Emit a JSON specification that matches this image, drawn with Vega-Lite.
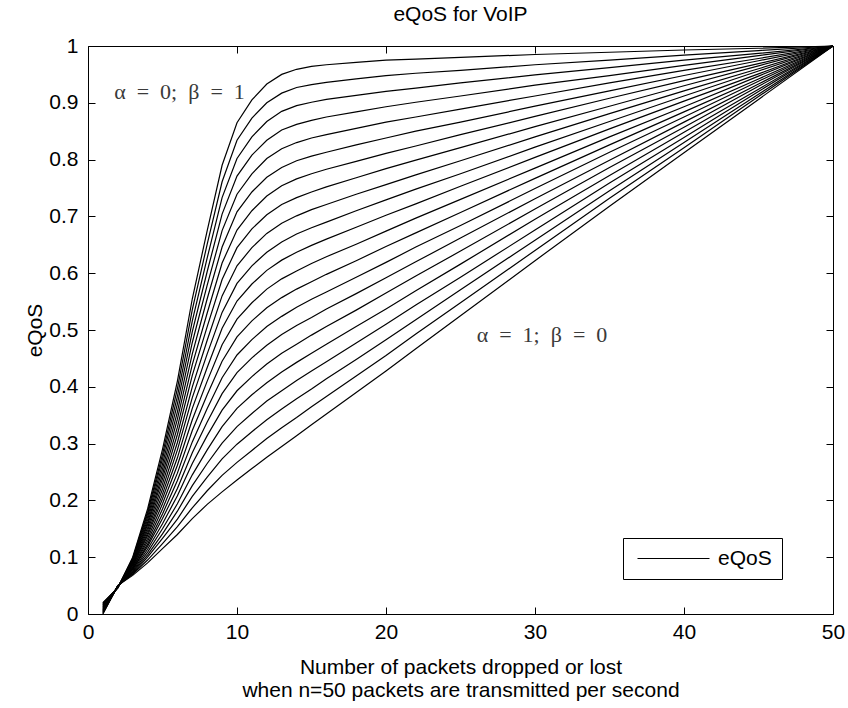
{
  "$schema": "https://vega.github.io/schema/vega-lite/v6.json",
  "width": 745,
  "height": 568,
  "autosize": "none",
  "padding": {"left": 88, "top": 46, "right": 15, "bottom": 94},
  "background": "white",
  "title": {"text": "eQoS for VoIP", "font": "Liberation Sans", "fontSize": 21, "fontWeight": "normal", "color": "black", "offset": 10, "anchor": "middle"},
  "config": {
    "view": {"stroke": "black", "strokeWidth": 1},
    "axis": {"domain": false, "grid": false, "tickColor": "black", "tickSize": -7, "tickWidth": 1, "labelFont": "Liberation Sans", "labelFontSize": 21, "labelColor": "black", "titleFont": "Liberation Sans", "titleFontSize": 21, "titleFontWeight": "normal", "titleColor": "black"}
  },
  "datasets": {
    "curves": [
      {"alpha":0,"x":1,"y":0.02},{"alpha":0.05,"x":1,"y":0.019},{"alpha":0.1,"x":1,"y":0.018},{"alpha":0.15,"x":1,"y":0.017},{"alpha":0.2,"x":1,"y":0.016},{"alpha":0.25,"x":1,"y":0.015},{"alpha":0.3,"x":1,"y":0.014},{"alpha":0.35,"x":1,"y":0.013},{"alpha":0.4,"x":1,"y":0.012},{"alpha":0.45,"x":1,"y":0.011},{"alpha":0.5,"x":1,"y":0.01},{"alpha":0.55,"x":1,"y":0.009},{"alpha":0.6,"x":1,"y":0.008},{"alpha":0.65,"x":1,"y":0.007},{"alpha":0.7,"x":1,"y":0.006},{"alpha":0.75,"x":1,"y":0.005},{"alpha":0.8,"x":1,"y":0.004},{"alpha":0.85,"x":1,"y":0.003},{"alpha":0.9,"x":1,"y":0.002},{"alpha":0.95,"x":1,"y":0.001},{"alpha":1,"x":1,"y":0},
      {"alpha":0,"x":2,"y":0.046},{"alpha":0.05,"x":2,"y":0.046},{"alpha":0.1,"x":2,"y":0.046},{"alpha":0.15,"x":2,"y":0.047},{"alpha":0.2,"x":2,"y":0.047},{"alpha":0.25,"x":2,"y":0.047},{"alpha":0.3,"x":2,"y":0.047},{"alpha":0.35,"x":2,"y":0.047},{"alpha":0.4,"x":2,"y":0.048},{"alpha":0.45,"x":2,"y":0.048},{"alpha":0.5,"x":2,"y":0.048},{"alpha":0.55,"x":2,"y":0.048},{"alpha":0.6,"x":2,"y":0.048},{"alpha":0.65,"x":2,"y":0.049},{"alpha":0.7,"x":2,"y":0.049},{"alpha":0.75,"x":2,"y":0.049},{"alpha":0.8,"x":2,"y":0.049},{"alpha":0.85,"x":2,"y":0.049},{"alpha":0.9,"x":2,"y":0.05},{"alpha":0.95,"x":2,"y":0.05},{"alpha":1,"x":2,"y":0.05},
      {"alpha":0,"x":3,"y":0.1},{"alpha":0.05,"x":3,"y":0.098},{"alpha":0.1,"x":3,"y":0.097},{"alpha":0.15,"x":3,"y":0.095},{"alpha":0.2,"x":3,"y":0.094},{"alpha":0.25,"x":3,"y":0.092},{"alpha":0.3,"x":3,"y":0.09},{"alpha":0.35,"x":3,"y":0.089},{"alpha":0.4,"x":3,"y":0.087},{"alpha":0.45,"x":3,"y":0.086},{"alpha":0.5,"x":3,"y":0.084},{"alpha":0.55,"x":3,"y":0.082},{"alpha":0.6,"x":3,"y":0.081},{"alpha":0.65,"x":3,"y":0.079},{"alpha":0.7,"x":3,"y":0.078},{"alpha":0.75,"x":3,"y":0.076},{"alpha":0.8,"x":3,"y":0.074},{"alpha":0.85,"x":3,"y":0.073},{"alpha":0.9,"x":3,"y":0.071},{"alpha":0.95,"x":3,"y":0.07},{"alpha":1,"x":3,"y":0.068},
      {"alpha":0,"x":4,"y":0.185},{"alpha":0.05,"x":4,"y":0.18},{"alpha":0.1,"x":4,"y":0.176},{"alpha":0.15,"x":4,"y":0.171},{"alpha":0.2,"x":4,"y":0.166},{"alpha":0.25,"x":4,"y":0.161},{"alpha":0.3,"x":4,"y":0.157},{"alpha":0.35,"x":4,"y":0.152},{"alpha":0.4,"x":4,"y":0.147},{"alpha":0.45,"x":4,"y":0.142},{"alpha":0.5,"x":4,"y":0.138},{"alpha":0.55,"x":4,"y":0.133},{"alpha":0.6,"x":4,"y":0.128},{"alpha":0.65,"x":4,"y":0.123},{"alpha":0.7,"x":4,"y":0.119},{"alpha":0.75,"x":4,"y":0.114},{"alpha":0.8,"x":4,"y":0.109},{"alpha":0.85,"x":4,"y":0.104},{"alpha":0.9,"x":4,"y":0.1},{"alpha":0.95,"x":4,"y":0.095},{"alpha":1,"x":4,"y":0.09},
      {"alpha":0,"x":5,"y":0.29},{"alpha":0.05,"x":5,"y":0.281},{"alpha":0.1,"x":5,"y":0.273},{"alpha":0.15,"x":5,"y":0.264},{"alpha":0.2,"x":5,"y":0.255},{"alpha":0.25,"x":5,"y":0.246},{"alpha":0.3,"x":5,"y":0.238},{"alpha":0.35,"x":5,"y":0.229},{"alpha":0.4,"x":5,"y":0.22},{"alpha":0.45,"x":5,"y":0.211},{"alpha":0.5,"x":5,"y":0.203},{"alpha":0.55,"x":5,"y":0.194},{"alpha":0.6,"x":5,"y":0.185},{"alpha":0.65,"x":5,"y":0.176},{"alpha":0.7,"x":5,"y":0.168},{"alpha":0.75,"x":5,"y":0.159},{"alpha":0.8,"x":5,"y":0.15},{"alpha":0.85,"x":5,"y":0.141},{"alpha":0.9,"x":5,"y":0.133},{"alpha":0.95,"x":5,"y":0.124},{"alpha":1,"x":5,"y":0.115},
      {"alpha":0,"x":6,"y":0.41},{"alpha":0.05,"x":6,"y":0.397},{"alpha":0.1,"x":6,"y":0.383},{"alpha":0.15,"x":6,"y":0.37},{"alpha":0.2,"x":6,"y":0.356},{"alpha":0.25,"x":6,"y":0.343},{"alpha":0.3,"x":6,"y":0.329},{"alpha":0.35,"x":6,"y":0.316},{"alpha":0.4,"x":6,"y":0.302},{"alpha":0.45,"x":6,"y":0.289},{"alpha":0.5,"x":6,"y":0.275},{"alpha":0.55,"x":6,"y":0.262},{"alpha":0.6,"x":6,"y":0.248},{"alpha":0.65,"x":6,"y":0.235},{"alpha":0.7,"x":6,"y":0.221},{"alpha":0.75,"x":6,"y":0.208},{"alpha":0.8,"x":6,"y":0.194},{"alpha":0.85,"x":6,"y":0.181},{"alpha":0.9,"x":6,"y":0.167},{"alpha":0.95,"x":6,"y":0.154},{"alpha":1,"x":6,"y":0.14},
      {"alpha":0,"x":7,"y":0.555},{"alpha":0.05,"x":7,"y":0.536},{"alpha":0.1,"x":7,"y":0.516},{"alpha":0.15,"x":7,"y":0.497},{"alpha":0.2,"x":7,"y":0.478},{"alpha":0.25,"x":7,"y":0.458},{"alpha":0.3,"x":7,"y":0.439},{"alpha":0.35,"x":7,"y":0.42},{"alpha":0.4,"x":7,"y":0.4},{"alpha":0.45,"x":7,"y":0.381},{"alpha":0.5,"x":7,"y":0.362},{"alpha":0.55,"x":7,"y":0.342},{"alpha":0.6,"x":7,"y":0.323},{"alpha":0.65,"x":7,"y":0.303},{"alpha":0.7,"x":7,"y":0.284},{"alpha":0.75,"x":7,"y":0.265},{"alpha":0.8,"x":7,"y":0.245},{"alpha":0.85,"x":7,"y":0.226},{"alpha":0.9,"x":7,"y":0.207},{"alpha":0.95,"x":7,"y":0.187},{"alpha":1,"x":7,"y":0.168},
      {"alpha":0,"x":8,"y":0.675},{"alpha":0.05,"x":8,"y":0.651},{"alpha":0.1,"x":8,"y":0.627},{"alpha":0.15,"x":8,"y":0.603},{"alpha":0.2,"x":8,"y":0.579},{"alpha":0.25,"x":8,"y":0.555},{"alpha":0.3,"x":8,"y":0.53},{"alpha":0.35,"x":8,"y":0.506},{"alpha":0.4,"x":8,"y":0.482},{"alpha":0.45,"x":8,"y":0.458},{"alpha":0.5,"x":8,"y":0.434},{"alpha":0.55,"x":8,"y":0.41},{"alpha":0.6,"x":8,"y":0.386},{"alpha":0.65,"x":8,"y":0.362},{"alpha":0.7,"x":8,"y":0.338},{"alpha":0.75,"x":8,"y":0.314},{"alpha":0.8,"x":8,"y":0.289},{"alpha":0.85,"x":8,"y":0.265},{"alpha":0.9,"x":8,"y":0.241},{"alpha":0.95,"x":8,"y":0.217},{"alpha":1,"x":8,"y":0.193},
      {"alpha":0,"x":9,"y":0.79},{"alpha":0.05,"x":9,"y":0.761},{"alpha":0.1,"x":9,"y":0.733},{"alpha":0.15,"x":9,"y":0.704},{"alpha":0.2,"x":9,"y":0.675},{"alpha":0.25,"x":9,"y":0.646},{"alpha":0.3,"x":9,"y":0.618},{"alpha":0.35,"x":9,"y":0.589},{"alpha":0.4,"x":9,"y":0.56},{"alpha":0.45,"x":9,"y":0.531},{"alpha":0.5,"x":9,"y":0.503},{"alpha":0.55,"x":9,"y":0.474},{"alpha":0.6,"x":9,"y":0.445},{"alpha":0.65,"x":9,"y":0.416},{"alpha":0.7,"x":9,"y":0.388},{"alpha":0.75,"x":9,"y":0.359},{"alpha":0.8,"x":9,"y":0.33},{"alpha":0.85,"x":9,"y":0.301},{"alpha":0.9,"x":9,"y":0.273},{"alpha":0.95,"x":9,"y":0.244},{"alpha":1,"x":9,"y":0.215},
      {"alpha":0,"x":10,"y":0.865},{"alpha":0.05,"x":10,"y":0.834},{"alpha":0.1,"x":10,"y":0.802},{"alpha":0.15,"x":10,"y":0.771},{"alpha":0.2,"x":10,"y":0.739},{"alpha":0.25,"x":10,"y":0.708},{"alpha":0.3,"x":10,"y":0.676},{"alpha":0.35,"x":10,"y":0.645},{"alpha":0.4,"x":10,"y":0.613},{"alpha":0.45,"x":10,"y":0.582},{"alpha":0.5,"x":10,"y":0.551},{"alpha":0.55,"x":10,"y":0.519},{"alpha":0.6,"x":10,"y":0.488},{"alpha":0.65,"x":10,"y":0.456},{"alpha":0.7,"x":10,"y":0.425},{"alpha":0.75,"x":10,"y":0.393},{"alpha":0.8,"x":10,"y":0.362},{"alpha":0.85,"x":10,"y":0.33},{"alpha":0.9,"x":10,"y":0.299},{"alpha":0.95,"x":10,"y":0.267},{"alpha":1,"x":10,"y":0.236},
      {"alpha":0,"x":11,"y":0.905},{"alpha":0.05,"x":11,"y":0.873},{"alpha":0.1,"x":11,"y":0.84},{"alpha":0.15,"x":11,"y":0.808},{"alpha":0.2,"x":11,"y":0.775},{"alpha":0.25,"x":11,"y":0.743},{"alpha":0.3,"x":11,"y":0.71},{"alpha":0.35,"x":11,"y":0.678},{"alpha":0.4,"x":11,"y":0.645},{"alpha":0.45,"x":11,"y":0.613},{"alpha":0.5,"x":11,"y":0.581},{"alpha":0.55,"x":11,"y":0.548},{"alpha":0.6,"x":11,"y":0.516},{"alpha":0.65,"x":11,"y":0.483},{"alpha":0.7,"x":11,"y":0.451},{"alpha":0.75,"x":11,"y":0.418},{"alpha":0.8,"x":11,"y":0.386},{"alpha":0.85,"x":11,"y":0.353},{"alpha":0.9,"x":11,"y":0.321},{"alpha":0.95,"x":11,"y":0.288},{"alpha":1,"x":11,"y":0.256},
      {"alpha":0,"x":12,"y":0.933},{"alpha":0.05,"x":12,"y":0.9},{"alpha":0.1,"x":12,"y":0.867},{"alpha":0.15,"x":12,"y":0.834},{"alpha":0.2,"x":12,"y":0.802},{"alpha":0.25,"x":12,"y":0.769},{"alpha":0.3,"x":12,"y":0.736},{"alpha":0.35,"x":12,"y":0.703},{"alpha":0.4,"x":12,"y":0.67},{"alpha":0.45,"x":12,"y":0.637},{"alpha":0.5,"x":12,"y":0.605},{"alpha":0.55,"x":12,"y":0.572},{"alpha":0.6,"x":12,"y":0.539},{"alpha":0.65,"x":12,"y":0.506},{"alpha":0.7,"x":12,"y":0.473},{"alpha":0.75,"x":12,"y":0.44},{"alpha":0.8,"x":12,"y":0.407},{"alpha":0.85,"x":12,"y":0.375},{"alpha":0.9,"x":12,"y":0.342},{"alpha":0.95,"x":12,"y":0.309},{"alpha":1,"x":12,"y":0.276},
      {"alpha":0,"x":13,"y":0.95},{"alpha":0.05,"x":13,"y":0.917},{"alpha":0.1,"x":13,"y":0.885},{"alpha":0.15,"x":13,"y":0.852},{"alpha":0.2,"x":13,"y":0.819},{"alpha":0.25,"x":13,"y":0.786},{"alpha":0.3,"x":13,"y":0.754},{"alpha":0.35,"x":13,"y":0.721},{"alpha":0.4,"x":13,"y":0.688},{"alpha":0.45,"x":13,"y":0.655},{"alpha":0.5,"x":13,"y":0.623},{"alpha":0.55,"x":13,"y":0.59},{"alpha":0.6,"x":13,"y":0.557},{"alpha":0.65,"x":13,"y":0.524},{"alpha":0.7,"x":13,"y":0.492},{"alpha":0.75,"x":13,"y":0.459},{"alpha":0.8,"x":13,"y":0.426},{"alpha":0.85,"x":13,"y":0.393},{"alpha":0.9,"x":13,"y":0.361},{"alpha":0.95,"x":13,"y":0.328},{"alpha":1,"x":13,"y":0.295},
      {"alpha":0,"x":14,"y":0.959},{"alpha":0.05,"x":14,"y":0.927},{"alpha":0.1,"x":14,"y":0.895},{"alpha":0.15,"x":14,"y":0.862},{"alpha":0.2,"x":14,"y":0.83},{"alpha":0.25,"x":14,"y":0.798},{"alpha":0.3,"x":14,"y":0.766},{"alpha":0.35,"x":14,"y":0.733},{"alpha":0.4,"x":14,"y":0.701},{"alpha":0.45,"x":14,"y":0.669},{"alpha":0.5,"x":14,"y":0.637},{"alpha":0.55,"x":14,"y":0.604},{"alpha":0.6,"x":14,"y":0.572},{"alpha":0.65,"x":14,"y":0.54},{"alpha":0.7,"x":14,"y":0.508},{"alpha":0.75,"x":14,"y":0.475},{"alpha":0.8,"x":14,"y":0.443},{"alpha":0.85,"x":14,"y":0.411},{"alpha":0.9,"x":14,"y":0.379},{"alpha":0.95,"x":14,"y":0.346},{"alpha":1,"x":14,"y":0.314},
      {"alpha":0,"x":15,"y":0.964},{"alpha":0.05,"x":15,"y":0.932},{"alpha":0.1,"x":15,"y":0.901},{"alpha":0.15,"x":15,"y":0.869},{"alpha":0.2,"x":15,"y":0.838},{"alpha":0.25,"x":15,"y":0.806},{"alpha":0.3,"x":15,"y":0.775},{"alpha":0.35,"x":15,"y":0.743},{"alpha":0.4,"x":15,"y":0.712},{"alpha":0.45,"x":15,"y":0.68},{"alpha":0.5,"x":15,"y":0.649},{"alpha":0.55,"x":15,"y":0.617},{"alpha":0.6,"x":15,"y":0.585},{"alpha":0.65,"x":15,"y":0.554},{"alpha":0.7,"x":15,"y":0.522},{"alpha":0.75,"x":15,"y":0.491},{"alpha":0.8,"x":15,"y":0.459},{"alpha":0.85,"x":15,"y":0.428},{"alpha":0.9,"x":15,"y":0.396},{"alpha":0.95,"x":15,"y":0.365},{"alpha":1,"x":15,"y":0.333},
      {"alpha":0,"x":16,"y":0.967},{"alpha":0.05,"x":16,"y":0.936},{"alpha":0.1,"x":16,"y":0.906},{"alpha":0.15,"x":16,"y":0.875},{"alpha":0.2,"x":16,"y":0.844},{"alpha":0.25,"x":16,"y":0.813},{"alpha":0.3,"x":16,"y":0.783},{"alpha":0.35,"x":16,"y":0.752},{"alpha":0.4,"x":16,"y":0.721},{"alpha":0.45,"x":16,"y":0.69},{"alpha":0.5,"x":16,"y":0.66},{"alpha":0.55,"x":16,"y":0.629},{"alpha":0.6,"x":16,"y":0.598},{"alpha":0.65,"x":16,"y":0.567},{"alpha":0.7,"x":16,"y":0.537},{"alpha":0.75,"x":16,"y":0.506},{"alpha":0.8,"x":16,"y":0.475},{"alpha":0.85,"x":16,"y":0.444},{"alpha":0.9,"x":16,"y":0.414},{"alpha":0.95,"x":16,"y":0.383},{"alpha":1,"x":16,"y":0.352},
      {"alpha":0,"x":18,"y":0.971},{"alpha":0.05,"x":18,"y":0.942},{"alpha":0.1,"x":18,"y":0.913},{"alpha":0.15,"x":18,"y":0.884},{"alpha":0.2,"x":18,"y":0.855},{"alpha":0.25,"x":18,"y":0.826},{"alpha":0.3,"x":18,"y":0.797},{"alpha":0.35,"x":18,"y":0.768},{"alpha":0.4,"x":18,"y":0.739},{"alpha":0.45,"x":18,"y":0.71},{"alpha":0.5,"x":18,"y":0.681},{"alpha":0.55,"x":18,"y":0.651},{"alpha":0.6,"x":18,"y":0.622},{"alpha":0.65,"x":18,"y":0.593},{"alpha":0.7,"x":18,"y":0.564},{"alpha":0.75,"x":18,"y":0.535},{"alpha":0.8,"x":18,"y":0.506},{"alpha":0.85,"x":18,"y":0.477},{"alpha":0.9,"x":18,"y":0.448},{"alpha":0.95,"x":18,"y":0.419},{"alpha":1,"x":18,"y":0.39},
      {"alpha":0,"x":20,"y":0.975},{"alpha":0.05,"x":20,"y":0.948},{"alpha":0.1,"x":20,"y":0.92},{"alpha":0.15,"x":20,"y":0.893},{"alpha":0.2,"x":20,"y":0.866},{"alpha":0.25,"x":20,"y":0.838},{"alpha":0.3,"x":20,"y":0.811},{"alpha":0.35,"x":20,"y":0.784},{"alpha":0.4,"x":20,"y":0.756},{"alpha":0.45,"x":20,"y":0.729},{"alpha":0.5,"x":20,"y":0.702},{"alpha":0.55,"x":20,"y":0.674},{"alpha":0.6,"x":20,"y":0.647},{"alpha":0.65,"x":20,"y":0.619},{"alpha":0.7,"x":20,"y":0.592},{"alpha":0.75,"x":20,"y":0.565},{"alpha":0.8,"x":20,"y":0.537},{"alpha":0.85,"x":20,"y":0.51},{"alpha":0.9,"x":20,"y":0.483},{"alpha":0.95,"x":20,"y":0.455},{"alpha":1,"x":20,"y":0.428},
      {"alpha":0,"x":22,"y":0.977},{"alpha":0.05,"x":22,"y":0.952},{"alpha":0.1,"x":22,"y":0.926},{"alpha":0.15,"x":22,"y":0.901},{"alpha":0.2,"x":22,"y":0.875},{"alpha":0.25,"x":22,"y":0.85},{"alpha":0.3,"x":22,"y":0.824},{"alpha":0.35,"x":22,"y":0.799},{"alpha":0.4,"x":22,"y":0.773},{"alpha":0.45,"x":22,"y":0.748},{"alpha":0.5,"x":22,"y":0.722},{"alpha":0.55,"x":22,"y":0.697},{"alpha":0.6,"x":22,"y":0.671},{"alpha":0.65,"x":22,"y":0.646},{"alpha":0.7,"x":22,"y":0.62},{"alpha":0.75,"x":22,"y":0.595},{"alpha":0.8,"x":22,"y":0.569},{"alpha":0.85,"x":22,"y":0.544},{"alpha":0.9,"x":22,"y":0.518},{"alpha":0.95,"x":22,"y":0.493},{"alpha":1,"x":22,"y":0.467},
      {"alpha":0,"x":25,"y":0.98},{"alpha":0.05,"x":25,"y":0.957},{"alpha":0.1,"x":25,"y":0.935},{"alpha":0.15,"x":25,"y":0.912},{"alpha":0.2,"x":25,"y":0.889},{"alpha":0.25,"x":25,"y":0.866},{"alpha":0.3,"x":25,"y":0.844},{"alpha":0.35,"x":25,"y":0.821},{"alpha":0.4,"x":25,"y":0.798},{"alpha":0.45,"x":25,"y":0.775},{"alpha":0.5,"x":25,"y":0.753},{"alpha":0.55,"x":25,"y":0.73},{"alpha":0.6,"x":25,"y":0.707},{"alpha":0.65,"x":25,"y":0.684},{"alpha":0.7,"x":25,"y":0.662},{"alpha":0.75,"x":25,"y":0.639},{"alpha":0.8,"x":25,"y":0.616},{"alpha":0.85,"x":25,"y":0.593},{"alpha":0.9,"x":25,"y":0.571},{"alpha":0.95,"x":25,"y":0.548},{"alpha":1,"x":25,"y":0.525},
      {"alpha":0,"x":30,"y":0.985},{"alpha":0.05,"x":30,"y":0.967},{"alpha":0.1,"x":30,"y":0.949},{"alpha":0.15,"x":30,"y":0.931},{"alpha":0.2,"x":30,"y":0.912},{"alpha":0.25,"x":30,"y":0.894},{"alpha":0.3,"x":30,"y":0.876},{"alpha":0.35,"x":30,"y":0.858},{"alpha":0.4,"x":30,"y":0.84},{"alpha":0.45,"x":30,"y":0.822},{"alpha":0.5,"x":30,"y":0.804},{"alpha":0.55,"x":30,"y":0.785},{"alpha":0.6,"x":30,"y":0.767},{"alpha":0.65,"x":30,"y":0.749},{"alpha":0.7,"x":30,"y":0.731},{"alpha":0.75,"x":30,"y":0.713},{"alpha":0.8,"x":30,"y":0.695},{"alpha":0.85,"x":30,"y":0.676},{"alpha":0.9,"x":30,"y":0.658},{"alpha":0.95,"x":30,"y":0.64},{"alpha":1,"x":30,"y":0.622},
      {"alpha":0,"x":35,"y":0.989},{"alpha":0.05,"x":35,"y":0.975},{"alpha":0.1,"x":35,"y":0.962},{"alpha":0.15,"x":35,"y":0.948},{"alpha":0.2,"x":35,"y":0.935},{"alpha":0.25,"x":35,"y":0.921},{"alpha":0.3,"x":35,"y":0.908},{"alpha":0.35,"x":35,"y":0.894},{"alpha":0.4,"x":35,"y":0.881},{"alpha":0.45,"x":35,"y":0.867},{"alpha":0.5,"x":35,"y":0.854},{"alpha":0.55,"x":35,"y":0.84},{"alpha":0.6,"x":35,"y":0.826},{"alpha":0.65,"x":35,"y":0.813},{"alpha":0.7,"x":35,"y":0.799},{"alpha":0.75,"x":35,"y":0.786},{"alpha":0.8,"x":35,"y":0.772},{"alpha":0.85,"x":35,"y":0.759},{"alpha":0.9,"x":35,"y":0.745},{"alpha":0.95,"x":35,"y":0.732},{"alpha":1,"x":35,"y":0.718},
      {"alpha":0,"x":40,"y":0.993},{"alpha":0.05,"x":40,"y":0.984},{"alpha":0.1,"x":40,"y":0.975},{"alpha":0.15,"x":40,"y":0.966},{"alpha":0.2,"x":40,"y":0.957},{"alpha":0.25,"x":40,"y":0.948},{"alpha":0.3,"x":40,"y":0.939},{"alpha":0.35,"x":40,"y":0.93},{"alpha":0.4,"x":40,"y":0.921},{"alpha":0.45,"x":40,"y":0.912},{"alpha":0.5,"x":40,"y":0.903},{"alpha":0.55,"x":40,"y":0.893},{"alpha":0.6,"x":40,"y":0.884},{"alpha":0.65,"x":40,"y":0.875},{"alpha":0.7,"x":40,"y":0.866},{"alpha":0.75,"x":40,"y":0.857},{"alpha":0.8,"x":40,"y":0.848},{"alpha":0.85,"x":40,"y":0.839},{"alpha":0.9,"x":40,"y":0.83},{"alpha":0.95,"x":40,"y":0.821},{"alpha":1,"x":40,"y":0.812},
      {"alpha":0,"x":45,"y":0.996},{"alpha":0.05,"x":45,"y":0.992},{"alpha":0.1,"x":45,"y":0.987},{"alpha":0.15,"x":45,"y":0.983},{"alpha":0.2,"x":45,"y":0.978},{"alpha":0.25,"x":45,"y":0.974},{"alpha":0.3,"x":45,"y":0.969},{"alpha":0.35,"x":45,"y":0.965},{"alpha":0.4,"x":45,"y":0.96},{"alpha":0.45,"x":45,"y":0.956},{"alpha":0.5,"x":45,"y":0.951},{"alpha":0.55,"x":45,"y":0.947},{"alpha":0.6,"x":45,"y":0.942},{"alpha":0.65,"x":45,"y":0.938},{"alpha":0.7,"x":45,"y":0.933},{"alpha":0.75,"x":45,"y":0.929},{"alpha":0.8,"x":45,"y":0.924},{"alpha":0.85,"x":45,"y":0.92},{"alpha":0.9,"x":45,"y":0.915},{"alpha":0.95,"x":45,"y":0.911},{"alpha":1,"x":45,"y":0.906},
      {"alpha":0,"x":50,"y":1},{"alpha":0.05,"x":50,"y":1},{"alpha":0.1,"x":50,"y":1},{"alpha":0.15,"x":50,"y":1},{"alpha":0.2,"x":50,"y":1},{"alpha":0.25,"x":50,"y":1},{"alpha":0.3,"x":50,"y":1},{"alpha":0.35,"x":50,"y":1},{"alpha":0.4,"x":50,"y":1},{"alpha":0.45,"x":50,"y":1},{"alpha":0.5,"x":50,"y":1},{"alpha":0.55,"x":50,"y":1},{"alpha":0.6,"x":50,"y":1},{"alpha":0.65,"x":50,"y":1},{"alpha":0.7,"x":50,"y":1},{"alpha":0.75,"x":50,"y":1},{"alpha":0.8,"x":50,"y":1},{"alpha":0.85,"x":50,"y":1},{"alpha":0.9,"x":50,"y":1},{"alpha":0.95,"x":50,"y":1},{"alpha":1,"x":50,"y":1}
    ],
    "notes": [
      {"x": 6.14, "y": 0.919, "label": "α\u2002=\u20020;\u2002β\u2002=\u20021"},
      {"x": 30.47, "y": 0.491, "label": "α\u2002=\u20021;\u2002β\u2002=\u20020"}
    ]
  },
  "layer": [
    {
      "data": {"name": "curves"},
      "mark": {"type": "line", "strokeWidth": 1.2, "interpolate": "linear"},
      "encoding": {
        "x": {
          "field": "x", "type": "quantitative",
          "scale": {"domain": [0, 50], "nice": false, "zero": false},
          "axis": {"values": [0, 10, 20, 30, 40, 50], "labelPadding": 14, "labelFlush": false,
                   "title": ["Number of packets dropped or lost", "when n=50 packets are transmitted per second"],
                   "titlePadding": 14, "titleLineHeight": 23}
        },
        "y": {
          "field": "y", "type": "quantitative",
          "scale": {"domain": [0, 1], "nice": false, "zero": false},
          "axis": {"values": [0, 0.1, 0.2, 0.3, 0.4, 0.5, 0.6, 0.7, 0.8, 0.9, 1], "format": "~g",
                   "labelPadding": 17, "labelFlush": false, "title": "eQoS", "titlePadding": 3}
        },
        "detail": {"field": "alpha", "type": "nominal"},
        "stroke": {
          "datum": "eQoS", "type": "nominal",
          "scale": {"range": ["black"]},
          "legend": {
            "orient": "none", "legendX": 535, "legendY": 492, "title": null,
            "symbolType": "M-1,0H11", "symbolSize": 144, "symbolStrokeWidth": 1, "symbolStrokeColor": "black",
            "labelFont": "Liberation Sans", "labelFontSize": 21, "labelColor": "black", "labelOffset": 64,
            "strokeColor": "black", "fillColor": "white", "padding": 10
          }
        }
      }
    },
    {
      "data": {"name": "notes"},
      "mark": {"type": "text", "font": "Liberation Serif", "fontSize": 22, "color": "#3a3a3a", "align": "center", "baseline": "middle"},
      "encoding": {
        "x": {"field": "x", "type": "quantitative",
              "axis": {"orient": "top", "values": [0, 10, 20, 30, 40, 50], "labels": false, "title": null}},
        "y": {"field": "y", "type": "quantitative",
              "axis": {"orient": "right", "values": [0, 0.1, 0.2, 0.3, 0.4, 0.5, 0.6, 0.7, 0.8, 0.9, 1], "labels": false, "title": null}},
        "text": {"field": "label"}
      }
    }
  ],
  "resolve": {"axis": {"x": "independent", "y": "independent"}}
}
